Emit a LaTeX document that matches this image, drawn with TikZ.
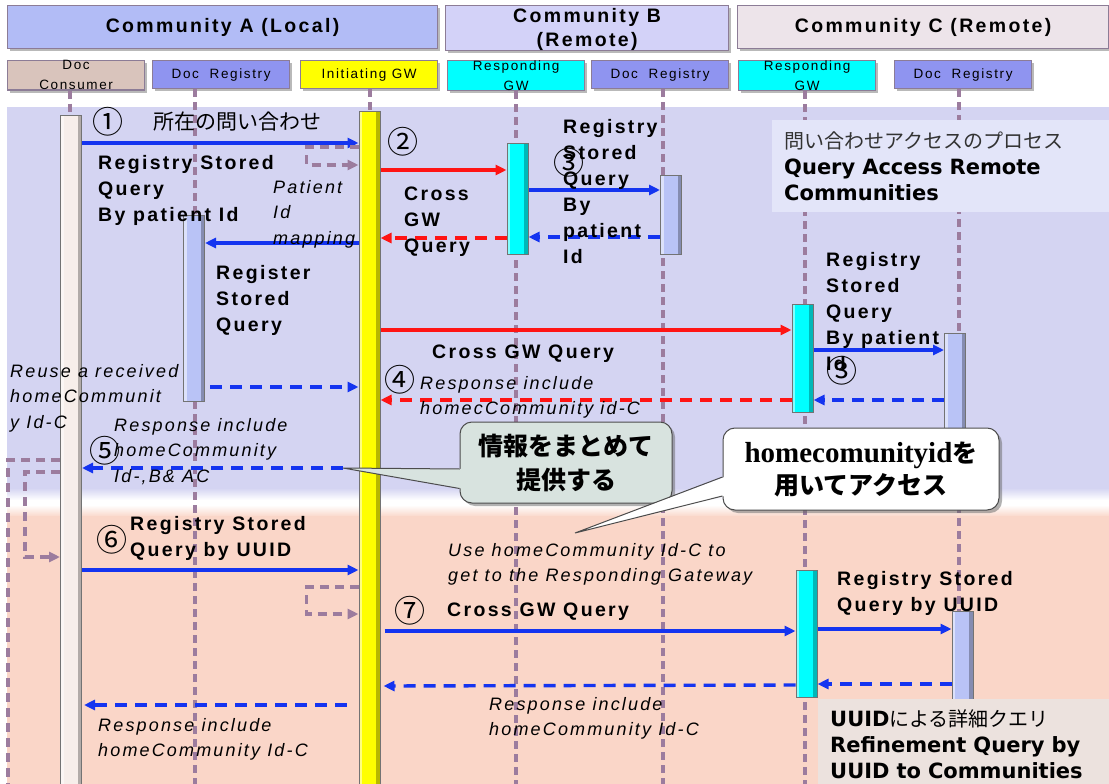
\documentclass[tikz,border=0pt]{standalone}
\usepackage{fontspec}
\setmainfont{Liberation Sans}[LetterSpace=12]
\newfontfamily\jpfont{Noto Sans CJK JP}
\newfontfamily\heavyfont{DejaVu Sans}
\newfontfamily\timesfont{Liberation Serif}
\usetikzlibrary{arrows.meta,shadows,calc}

\definecolor{lav}{RGB}{212,212,242}
\definecolor{peach}{RGB}{250,214,200}
\definecolor{commA}{RGB}{178,188,246}
\definecolor{commB}{RGB}{211,210,248}
\definecolor{commC}{RGB}{237,228,234}
\definecolor{frame}{RGB}{140,124,150}
\definecolor{consfill}{RGB}{217,196,188}
\definecolor{regfill}{RGB}{143,148,240}
\definecolor{regbar}{RGB}{185,195,246}
\definecolor{consbar}{RGB}{247,238,234}
\definecolor{gwyellow}{RGB}{255,255,0}
\definecolor{gwcyan}{RGB}{0,255,255}
\definecolor{life}{RGB}{156,124,158}
\definecolor{arrblue}{RGB}{20,52,240}
\definecolor{arrred}{RGB}{255,20,20}
\definecolor{infoA}{RGB}{227,229,249}
\definecolor{infoB}{RGB}{236,226,222}
\definecolor{calloutA}{RGB}{216,227,223}
\definecolor{pure}{RGB}{255,255,255}
\definecolor{ink}{RGB}{0,0,0}

\tikzset{
  softshadow/.style={drop shadow={shadow xshift=2.5pt, shadow yshift=-2.5pt, fill=ink!50, opacity=0.55}},
  commbox/.style={draw=frame, line width=1.2pt, minimum height=43pt, inner sep=0pt, anchor=north west,
    font=\fontsize{19.5}{24}\selectfont\bfseries, align=center, softshadow},
  partbox/.style={draw=frame, line width=1.2pt, minimum width=137pt, minimum height=28pt, inner sep=0pt,
    anchor=north west, font=\fontsize{13.5}{20}\selectfont, align=center, softshadow},
  lifeline/.style={draw=life, line width=3.4pt, dash pattern=on 8pt off 5pt},
  actbar/.style={draw=ink!55, line width=1pt, minimum width=21pt, inner sep=0pt, anchor=north,
    path picture={
      \fill[pure, opacity=0.5] (path picture bounding box.north west) rectangle ([xshift=3pt]path picture bounding box.south west);
      \fill[ink, opacity=0.28] ([xshift=-4pt]path picture bounding box.north east) rectangle (path picture bounding box.south east);
    }},
  msg/.style={line width=3.2pt, -{Triangle[length=11pt,width=10pt]}},
  rmsg/.style={msg, line width=3.4pt, dash pattern=on 12pt off 8pt},
  selfloop/.style={draw=life, line width=3.2pt, dash pattern=on 9pt off 6pt, -{Triangle[length=11pt,width=10pt]}},
  selfloopplain/.style={draw=life, line width=3.2pt, dash pattern=on 9pt off 6pt},
  blab/.style={font=\fontsize{19.5}{26}\selectfont\bfseries, align=left, anchor=north west, inner sep=0pt},
  ilab/.style={font=\fontsize{18}{25.5}\selectfont\itshape, align=left, anchor=north west, inner sep=0pt},
  cnum/.style={font=\jpfont\fontsize{31}{31}\selectfont, inner sep=0pt},
  jlab/.style={font=\jpfont\fontsize{21}{26}\selectfont, inner sep=0pt},
  callbody/.style={rounded corners=12pt, draw=ink!70, line width=1pt, align=center, inner sep=0pt,
    drop shadow={shadow xshift=3pt, shadow yshift=-3pt, fill=ink!60, opacity=0.5}},
  infobox/.style={anchor=north west, inner xsep=12pt, inner ysep=0pt, align=left,
    font=\fontsize{21}{26}\selectfont}
}

\begin{document}
\begin{tikzpicture}[x=1pt,y=-1pt]
\useasboundingbox (0,0) rectangle (1109,784);

% swim-lane backgrounds
\fill[lav] (7,107) rectangle (1109,489);
\shade[top color=lav, bottom color=pure] (7,488) rectangle (1109,500);
\shade[top color=pure, bottom color=peach] (7,505) rectangle (1109,517);
\fill[peach] (7,516) rectangle (1109,784);

% community headers
\node[commbox, fill=commA, minimum width=430pt] (ca) at (7,5) {Community A (Local)};
\node[commbox, fill=commB, minimum width=283pt] (cb) at (445,5) {\rule{0pt}{17pt}Community B\\(Remote)};
\node[commbox, fill=commC, minimum width=371pt] (cc) at (737,5) {Community C (Remote)};

% participants
\node[partbox, fill=consfill] (pcons) at (7,60) {Doc\\Consumer};
\node[partbox, fill=regfill] (pregA) at (152,60) {Doc\ \ Registry};
\node[partbox, fill=gwyellow] (pigw) at (300,60) {Initiating GW};
\node[partbox, fill=gwcyan] (prgB) at (447,60) {Responding\\GW};
\node[partbox, fill=regfill] (pregB) at (591,60) {Doc\ \ Registry};
\node[partbox, fill=gwcyan] (prgC) at (738,60) {Responding\\GW};
\node[partbox, fill=regfill] (pregC) at (894,60) {Doc\ \ Registry};

% lifelines
\draw[lifeline] (pcons.south -| 70,0) -- (70,784);
\draw[lifeline] (pregA.south -| 195,0) -- (195,784);
\draw[lifeline] (pigw.south -| 370,0) -- (370,784);
\draw[lifeline] (prgB.south -| 516,0) -- (516,784);
\draw[lifeline] (pregB.south -| 663,0) -- (663,784);
\draw[lifeline] (prgC.south -| 805,0) -- (805,784);
\draw[lifeline] (pregC.south -| 959,0) -- (959,784);

% activation bars
\node[actbar, fill=consbar, minimum height=675pt] (bcons) at (71,115) {};
\node[actbar, fill=gwyellow, minimum height=680pt] (bigw) at (369.5,111) {};
\node[actbar, fill=regbar, minimum height=186pt] (bregA) at (194,215) {};
\node[actbar, fill=gwcyan, minimum height=111pt] (brgB) at (517.5,143) {};
\node[actbar, fill=regbar, minimum height=79pt] (bregB) at (671,175) {};
\node[actbar, fill=gwcyan, minimum height=108pt] (brgC1) at (802.5,304) {};
\node[actbar, fill=regbar, minimum height=112pt] (bregC1) at (955,333) {};
\node[actbar, fill=gwcyan, minimum height=127pt] (brgC2) at (806.5,570) {};
\node[actbar, fill=regbar, minimum height=180pt] (bregC2) at (962.5,611) {};

% patient-id query
\draw[msg, arrblue] (bcons.east |- 0,143) -- (bigw.west |- 0,143);
\draw[selfloop] (bigw.west |- 0,147) -- ++(-52,0) -- ++(0,18) -- (bigw.west |- 0,165);
\draw[msg, arrred] (bigw.east |- 0,170) -- (brgB.west |- 0,170);
\draw[msg, arrblue] (brgB.east |- 0,190) -- (bregB.west |- 0,190);
\draw[rmsg, arrblue] (bregB.west |- 0,237) -- (brgB.east |- 0,237);
\draw[rmsg, arrred] (brgB.west |- 0,238) -- (bigw.east |- 0,238);
\draw[msg, arrblue] (bigw.west |- 0,243) -- (bregA.east |- 0,243);
\draw[msg, arrred] (bigw.east |- 0,330) -- (brgC1.west |- 0,330);
\draw[msg, arrblue] (brgC1.east |- 0,350) -- (bregC1.west |- 0,350);
\draw[rmsg, arrblue] (bregC1.west |- 0,400) -- (brgC1.east |- 0,400);
\draw[rmsg, arrred] (brgC1.west |- 0,400) -- (bigw.east |- 0,400);
\draw[rmsg, arrblue] ($(bregA.east |- 0,387)+(5,0)$) -- (bigw.west |- 0,387);

% aggregated response to the consumer
\coordinate (tip1) at (343,468);
\draw[rmsg, arrblue] (tip1) -- (bcons.east |- tip1);
\draw[selfloopplain] (bcons.west |- 0,460) -- (8,460) -- (8,784);
\draw[selfloop] (bcons.west |- 0,472) -- (25,472) -- (25,557) -- (bcons.west |- 0,557);

% UUID refinement query
\draw[msg, arrblue] (bcons.east |- 0,570) -- (bigw.west |- 0,570);
\draw[selfloop] (bigw.west |- 0,587) -- ++(-52,0) -- ++(0,27) -- (bigw.west |- 0,614);
\draw[msg, arrblue] ($(bigw.east |- 0,631)+(4,0)$) -- (brgC2.west |- 0,631);
\draw[msg, arrblue] (brgC2.east |- 0,629) -- (bregC2.west |- 0,629);
\draw[rmsg, arrblue] (bregC2.west |- 0,684) -- (brgC2.east |- 0,684);
\draw[rmsg, arrblue] (brgC2.west |- 0,685) -- ($(bigw.east |- 0,686)+(3,0)$);
\draw[rmsg, arrblue] ($(bigw.west |- 0,705)+(-12,0)$) -- ($(bcons.east |- 0,705)+(2,0)$);

% step numbers
\node[cnum] (n1) at (108,122) {①};
\node[cnum] (n2) at (403,142) {②};
\node[cnum] (n3) at (569,163) {③};
\node[cnum] (n3c) at (842,371) {③};
\node[cnum] (n4) at (400,380) {④};
\node[cnum] (n5) at (105,451) {⑤};
\node[cnum] (n6) at (112,540) {⑥};
\node[cnum] (n7) at (410,611) {⑦};

% message labels
\node[jlab] (j1) at (237,122) {所在の問い合わせ};
\node[blab] (t1) at (98,155) {Registry Stored\\Query\\By patient Id};
\node[blab] (t2) at (404,187) {Cross\\GW\\Query};
\node[blab] (t3) at (563,119) {Registry\\Stored\\Query\\By\\patient\\Id};
\node[blab] (t4) at (216,265) {Register\\Stored\\Query};
\node[blab] (t5) at (432,345) {Cross GW Query};
\node[blab] (t6) at (826,252) {Registry\\Stored\\Query\\By patient\\Id};
\node[blab] (t7) at (130,516) {Registry Stored\\Query by UUID};
\node[blab] (t8) at (447,603) {Cross GW Query};
\node[blab] (t9) at (837,571) {Registry Stored\\Query by UUID};

\node[ilab] (i1) at (273,180) {Patient\\Id\\mapping};
\node[ilab] (i2) at (420,376) {Response include\\homecCommunity id-C};
\node[ilab] (i3) at (10,364) {Reuse a received\\homeCommunit\\y Id-C};
\node[ilab] (i4) at (114,418) {Response include\\homeCommunity\\Id-,B\& AC};
\node[ilab] (i5) at (448,543) {Use homeCommunity Id-C to\\get to the Responding Gateway};
\node[ilab] (i6) at (489,697) {Response include\\homeCommunity Id-C};
\node[ilab] (i7) at (98,718) {Response include\\homeCommunity Id-C};

% callouts
\node[callbody, fill=calloutA, minimum width=212pt, minimum height=81pt,
      font=\jpfont\bfseries\fontsize{25}{34}\selectfont] (call1) at (566,462.5) {情報をまとめて\\提供する};
\fill[calloutA] (tip1) -- ($(call1.west)+(2,6.5)$) -- ($(call1.west)+(2,26)$) -- cycle;
\draw[ink!70, line width=1pt] ($(call1.west)+(0,6.5)$) -- (tip1) -- ($(call1.west)+(0,26)$);

\coordinate (tip2) at (575,533);
\node[callbody, fill=pure, minimum width=276pt, minimum height=82pt,
      font=\jpfont\bfseries\fontsize{25}{32}\selectfont] (call2) at (861,469)
      {{\timesfont\fontsize{29}{32}\selectfont homecomunityid}を\\用いてアクセス};
\fill[pure] (tip2) -- ($(call2.west)+(2,8)$) -- ($(call2.west)+(2,27)$) -- cycle;
\draw[ink!70, line width=1pt] ($(call2.west)+(0,8)$) -- (tip2) -- ($(call2.west)+(0,27)$);

% section captions
\node[infobox, fill=infoA, minimum width=345pt, minimum height=92pt, text width=321pt] (info1) at (772,120)
  {{\jpfont\fontsize{20}{26}\selectfont\color{ink!80}問い合わせアクセスのプロセス}\\{\heavyfont\bfseries Query Access Remote}\\{\heavyfont\bfseries Communities}};
\node[infobox, fill=infoB, minimum width=300pt, minimum height=90pt, text width=276pt] (info2) at (818,699)
  {{\heavyfont\bfseries UUID}{\jpfont\fontsize{20}{26}\selectfont による詳細クエリ}\\{\heavyfont\bfseries Refinement Query by}\\{\heavyfont\bfseries UUID to Communities}};
\end{tikzpicture}
\end{document}
